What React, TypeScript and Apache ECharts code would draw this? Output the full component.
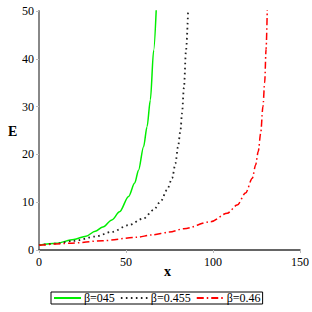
import React, { useEffect, useRef } from "react";
import * as echarts from "echarts";

const seriesNames = ["β=045", "β=0.455", "β=0.46"];
const greenX = [0, 10, 20, 27, 32.3, 36.7, 41.9, 46.3, 51.5, 55, 57.2, 60.1, 62.1, 64, 65.9, 67.4];
const greenY = [1, 1.4, 2.2, 2.9, 3.9, 4.8, 6.3, 8.0, 11.2, 14, 16.7, 21.6, 25.8, 31.4, 41.8, 50.5];
const blackX = [0, 10, 20, 32.3, 41.9, 51.5, 60.1, 65.9, 70, 73.6, 76.5, 78.4, 79.9, 81.3, 82.2, 83.3, 84.5, 85.7];
const blackY = [1, 1.35, 1.9, 2.8, 3.8, 5.2, 6.6, 8.4, 10.2, 12.6, 15, 18.1, 21.6, 25, 28.6, 34, 41.8, 50.2];
const redX = [0, 17.5, 36.7, 55.9, 65, 75, 83.2, 98.6, 108.2, 113.9, 118.7, 122.6, 124.5, 126, 127.4, 128.7, 129.7, 130.5, 131.2];
const redY = [1, 1.4, 1.95, 2.65, 3.15, 3.75, 4.45, 5.9, 7.7, 9.4, 11.9, 15, 17.8, 20.6, 24.4, 30, 35, 42, 50.5];
const xTicks = [0, 150, 50];
const yTicks = [0, 50, 10];

const zip = (xs: number[], ys: number[]) => xs.map((x, i) => [x, ys[i]]);

export default function App() {
  const ref = useRef<HTMLDivElement>(null);
  useEffect(() => {
    const chart = echarts.init(ref.current!, null, { renderer: "svg" });
    const font = "'Liberation Serif', 'DejaVu Serif', serif";
    chart.setOption({
      animation: false,
      backgroundColor: "#fff",
      textStyle: { fontFamily: font },
      grid: { left: 39, right: 12, top: 11, bottom: 62 },
      xAxis: {
        type: "value",
        min: xTicks[0],
        max: xTicks[1],
        interval: xTicks[2],
        axisLine: { lineStyle: { color: "#333", width: 1.5 } },
        axisTick: { show: true, length: 3, lineStyle: { color: "#bbb" } },
        axisLabel: { color: "#000", fontSize: 12, fontFamily: font, margin: 6 },
        splitLine: { show: false },
      },
      yAxis: {
        type: "value",
        min: yTicks[0],
        max: yTicks[1],
        interval: yTicks[2],
        axisLine: { show: true, lineStyle: { color: "#888", width: 2 } },
        axisTick: { show: true, length: 3, lineStyle: { color: "#bbb" } },
        axisLabel: { color: "#000", fontSize: 12, fontFamily: font, margin: 5 },
        splitLine: { show: false },
      },
      legend: {
        left: 51,
        top: 292,
        orient: "horizontal",
        borderColor: "#000",
        borderWidth: 1,
        borderRadius: 0,
        padding: [0, 2, 0, 2],
        itemGap: 5,
        itemWidth: 27,
        itemHeight: 10,
        itemStyle: { opacity: 0 },
        textStyle: { color: "#000", fontSize: 12, fontFamily: font, padding: [0, 0, 0, -2] },
        data: seriesNames,
      },
      graphic: [
        { type: "text", left: 8, top: 124, style: { text: "E", font: `bold 14px ${font}`, fill: "#000" } },
        { type: "text", left: 164, top: 264, style: { text: "x", font: `bold 14px ${font}`, fill: "#000" } },
      ],
      series: [
        {
          name: seriesNames[0],
          type: "line",
          data: zip(greenX, greenY),
          symbol: "none",
          smooth: 0.3,
          smoothMonotone: "x",
          lineStyle: { color: "#00ee00", width: 1.5 },
          itemStyle: { color: "#00ee00" },
        },
        {
          name: seriesNames[1],
          type: "line",
          data: zip(blackX, blackY),
          symbol: "none",
          smooth: 0.3,
          smoothMonotone: "x",
          lineStyle: { color: "#222", width: 1.8, type: [1.6, 3.4] },
          itemStyle: { color: "#222" },
        },
        {
          name: seriesNames[2],
          type: "line",
          data: zip(redX, redY),
          symbol: "none",
          smooth: 0.3,
          smoothMonotone: "x",
          lineStyle: { color: "#ff0000", width: 1.5, type: [7, 3, 1.5, 3] },
          itemStyle: { color: "#ff0000" },
        },
      ],
    });
    return () => chart.dispose();
  }, []);
  return (
    <div
      ref={ref}
      style={{ position: "absolute", left: 0, top: 0, width: 312, height: 312 }}
    />
  );
}
